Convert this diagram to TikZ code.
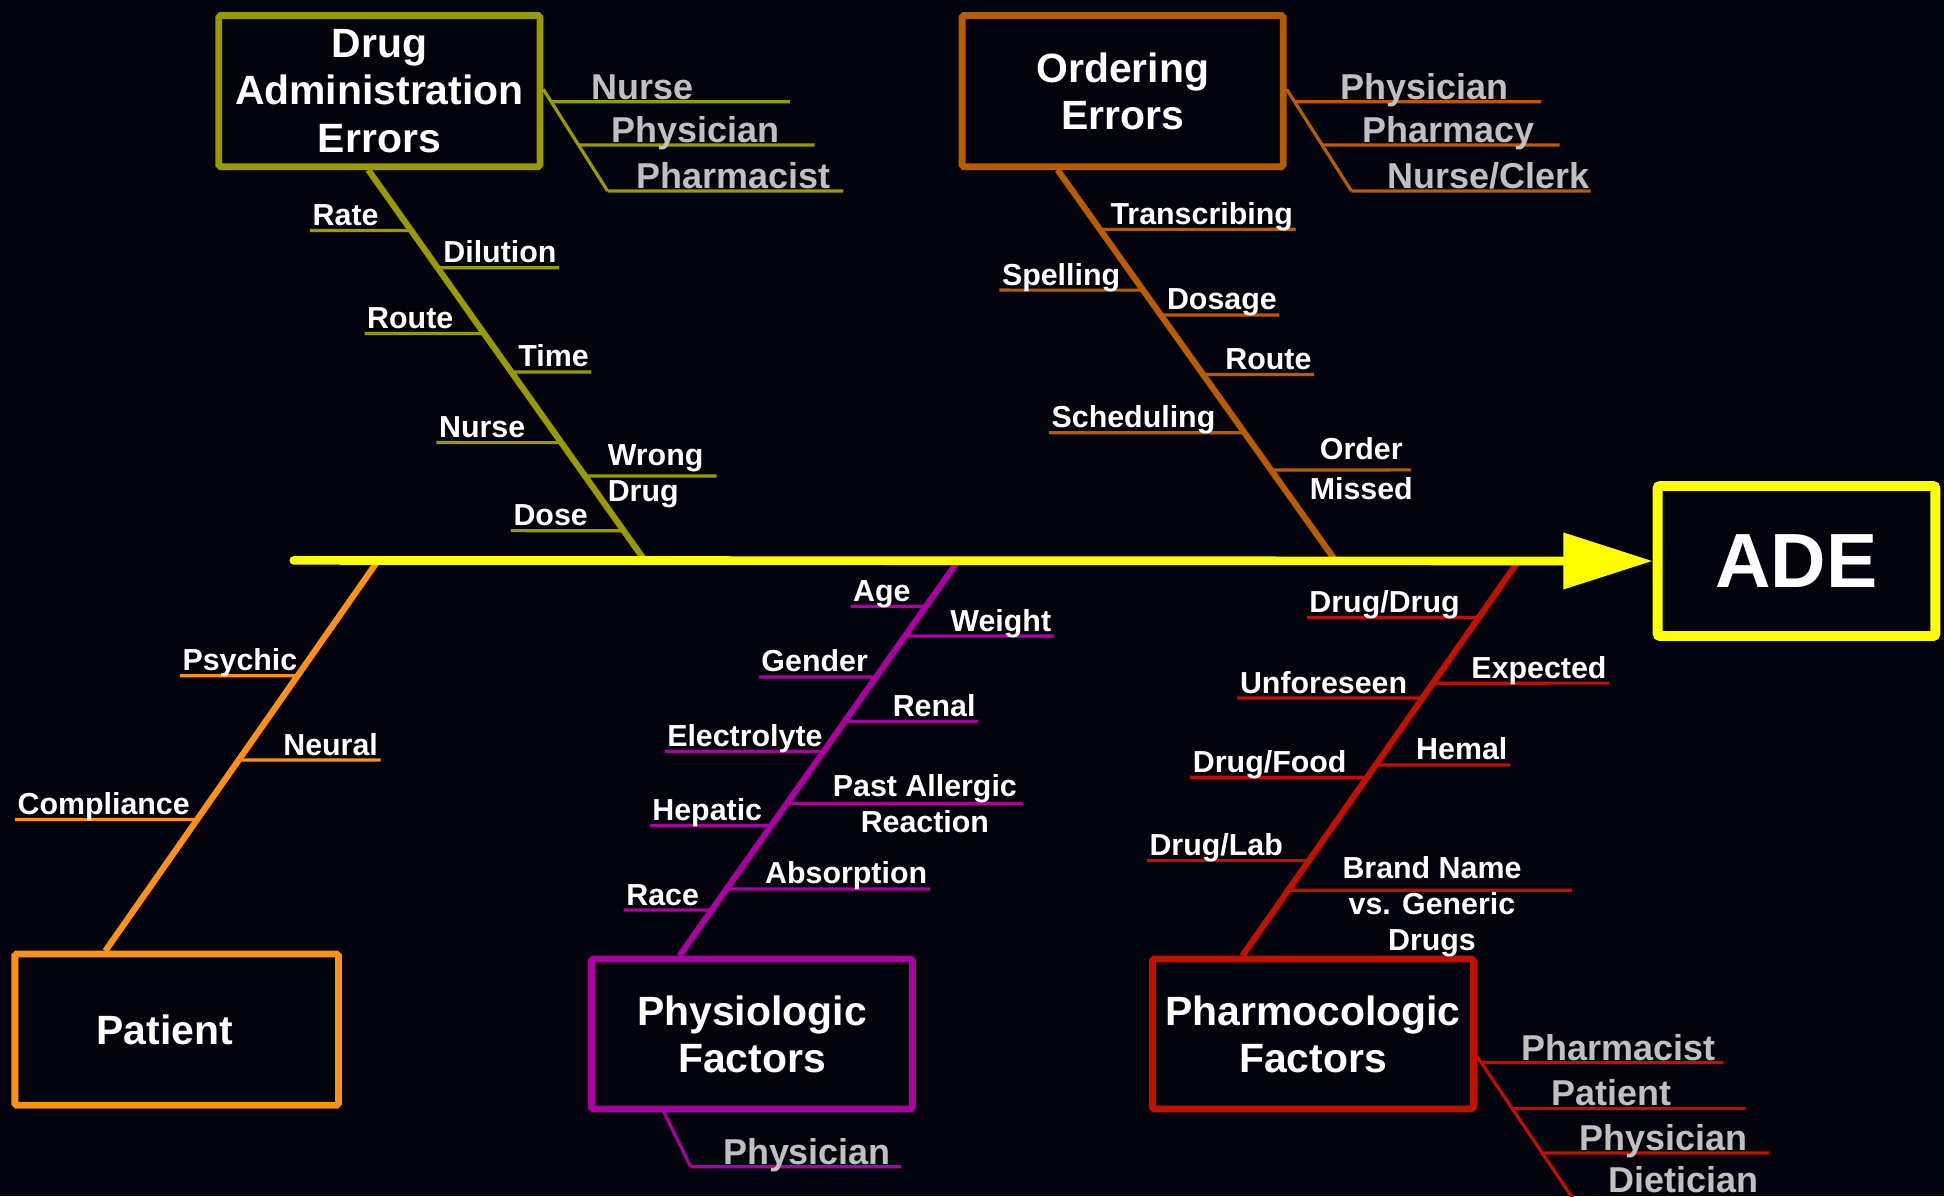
\documentclass[tikz,border=0pt]{standalone}
\usepackage{fontspec}
\setmainfont{Liberation Sans}
\usetikzlibrary{arrows.meta}
\definecolor{bgc}{RGB}{3,3,13}
\definecolor{cDae}{RGB}{153,153,0}
\definecolor{cOrd}{RGB}{184,92,0}
\definecolor{cPat}{RGB}{255,145,25}
\definecolor{cPhy}{RGB}{170,0,160}
\definecolor{cPc}{RGB}{192,16,0}
\definecolor{cGrey}{RGB}{192,192,192}
\definecolor{cSpine}{RGB}{255,255,0}
\newcommand\twig[4]{\draw[sub,#1] (#4,#3) -- (intersection of #2A--#2B and 0,#3--1,#3);}
% name, color, bone, y, x outer, text
\newcommand\leftlab[6]{\twig{#2}{#3}{#4}{#5}\node[lab,anchor=base west] (#1) at (#5+2,#4-4) {#6};}
\newcommand\rightlab[6]{\twig{#2}{#3}{#4}{#5}\node[lab,anchor=base east] (#1) at (#5-2,#4-4) {#6};}
% name, color, diag prefix, y, x right end, text x, text
\newcommand\sidelab[7]{\draw[sub,#2] (intersection of #3A--#3B and 0,#4--1,#4) -- (#5,#4);
  \node[glab,anchor=base west] (#1) at (#6,#4-2) {#7};}
\begin{document}
\begin{tikzpicture}[x=1pt,y=-1pt,
  lab/.style={text=white,font=\bfseries\fontsize{24.5}{29}\selectfont,inner sep=0pt},
  glab/.style={text=cGrey,font=\bfseries\fontsize{29}{34}\selectfont,inner sep=0pt},
  ttl/.style={draw,fill=bgc,line width=5.5pt,rounded corners=1.5pt,text=white,
    font=\bfseries\fontsize{33}{38}\selectfont,align=center,inner sep=0pt,
    minimum width=259pt,minimum height=122pt},
  bone/.style={line width=5pt},
  sub/.style={line width=2.6pt}]
\fill[bgc] (0,0) rectangle (1568,965);
\useasboundingbox (0,0) rectangle (1568,965);

% effect box
\node[draw=cSpine,fill=bgc,line width=8pt,rounded corners=2pt,minimum width=224pt,minimum height=121pt,
  text=white,font=\bfseries\fontsize{62}{70}\selectfont,inner sep=0pt] (ade) at (1449,452.5) {ADE};

% coordinates of bones
\coordinate (daeA) at (297,137); \coordinate (daeB) at (520,452);
\coordinate (ordA) at (853,137); \coordinate (ordB) at (1077,452);
\coordinate (patA) at (305,452); \coordinate (patB) at (85,767);
\coordinate (phyA) at (773,452); \coordinate (phyB) at (548,771);
\coordinate (pcA) at (1225,452); \coordinate (pcB) at (1002,771);
\coordinate (tail) at (237,452);

% bones
\draw[bone,cDae] (daeA) -- (daeB);
\draw[bone,cOrd] (ordA) -- (ordB);
\draw[bone,cPat] (patA) -- (patB);
\draw[bone,cPhy] (phyA) -- (phyB);
\draw[bone,cPc] (pcA) -- (pcB);

% spine
\draw[cSpine,line width=7pt,line cap=round,-{Triangle[length=72pt,width=44pt]}] (tail) -- (ade.west);

% category boxes
\node[ttl,draw=cDae] (dae) at (306,73.5) {Drug\\Administration\\Errors};
\node[ttl,draw=cOrd] (ord) at (905.5,73.5) {Ordering\\Errors};
\node[ttl,draw=cPat,minimum width=261pt] (pat) at (142.5,830.5) {Patient\hspace*{19pt}};
\node[ttl,draw=cPhy,minimum height=121pt] (phy) at (606.5,834) {Physiologic\\Factors};
\node[ttl,draw=cPc,minimum height=121pt] (pc) at (1059,834) {Pharmocologic\\Factors};

% Drug administration errors
\leftlab{rate}{cDae}{dae}{186}{250}{Rate}
\rightlab{dilution}{cDae}{dae}{216}{451}{Dilution}
\leftlab{route1}{cDae}{dae}{269}{294}{Route}
\rightlab{time}{cDae}{dae}{300}{477}{Time}
\leftlab{nurse1}{cDae}{dae}{357}{352}{Nurse}
\twig{cDae}{dae}{384}{578}
\node[lab,anchor=west,align=left] (wrong) at (490,384) {Wrong\\Drug};
\leftlab{dose}{cDae}{dae}{428}{412}{Dose}

% Ordering errors
\rightlab{transcribing}{cOrd}{ord}{185}{1045}{Transcribing}
\leftlab{spelling}{cOrd}{ord}{234}{806}{Spelling}
\rightlab{dosage}{cOrd}{ord}{254}{1032}{Dosage}
\rightlab{route2}{cOrd}{ord}{302}{1060}{Route}
\leftlab{scheduling}{cOrd}{ord}{349}{846}{Scheduling}
\twig{cOrd}{ord}{379}{1138}
\node[lab,align=center] (order) at (1098,378) {Order\\[4pt]Missed};

% Patient
\leftlab{psychic}{cPat}{pat}{545}{145}{Psychic}
\rightlab{neural}{cPat}{pat}{613}{307}{Neural}
\leftlab{compliance}{cPat}{pat}{661}{12}{Compliance}

% Physiologic
\leftlab{age}{cPhy}{phy}{489}{686}{Age}
\rightlab{weight}{cPhy}{phy}{513}{850}{Weight}
\leftlab{gender}{cPhy}{phy}{546}{612}{Gender}
\rightlab{renal}{cPhy}{phy}{582}{789}{Renal}
\leftlab{electrolyte}{cPhy}{phy}{606}{536}{Electrolyte}
\twig{cPhy}{phy}{648}{825}
\node[lab,align=center] (allergic) at (746,648) {Past Allergic\\Reaction};
\leftlab{hepatic}{cPhy}{phy}{666}{524}{Hepatic}
\rightlab{absorption}{cPhy}{phy}{717}{750}{Absorption}
\leftlab{race}{cPhy}{phy}{734}{503}{Race}

% Pharmocologic
\leftlab{dd}{cPc}{pc}{498}{1054}{Drug/Drug}
\rightlab{expected}{cPc}{pc}{551}{1298}{Expected}
\leftlab{unforeseen}{cPc}{pc}{563}{998}{Unforeseen}
\rightlab{hemal}{cPc}{pc}{617}{1218}{Hemal}
\leftlab{df}{cPc}{pc}{627}{960}{Drug/Food}
\leftlab{dl}{cPc}{pc}{694}{925}{Drug/Lab}
\twig{cPc}{pc}{718}{1268}
\node[lab,align=center] (brand) at (1155,731) {Brand Name\\vs. Generic\\Drugs};

% side lines (responsible persons)
\coordinate (sdaeA) at (dae.east |- 0,72); \coordinate (sdaeB) at (490,154);
\draw[sub,cDae] (sdaeA) -- (sdaeB);
\sidelab{s1}{cDae}{sdae}{82}{637}{477}{Nurse}
\sidelab{s2}{cDae}{sdae}{117}{657}{493}{Physician}
\sidelab{s3}{cDae}{sdae}{154}{680}{513}{Pharmacist}

\coordinate (sordA) at (ord.east |- 0,72); \coordinate (sordB) at (1090,154);
\draw[sub,cOrd] (sordA) -- (sordB);
\sidelab{s4}{cOrd}{sord}{82}{1243}{1081}{Physician}
\sidelab{s5}{cOrd}{sord}{117}{1258}{1099}{Pharmacy}
\sidelab{s6}{cOrd}{sord}{154}{1283}{1119}{Nurse/Clerk}

\coordinate (sphyA) at (535,896); \coordinate (sphyB) at (557,941);
\draw[sub,cPhy] (sphyA) -- (sphyB);
\sidelab{s7}{cPhy}{sphy}{941}{727}{583}{Physician}

\coordinate (spcA) at (pc.east |- 0,852); \coordinate (spcB) at (1275,976);
\draw[sub,cPc] (spcA) -- (spcB);
\sidelab{s8}{cPc}{spc}{857}{1390}{1227}{Pharmacist}
\sidelab{s9}{cPc}{spc}{894}{1408}{1251}{Patient}
\sidelab{s10}{cPc}{spc}{930}{1427}{1274}{Physician}
\node[glab,anchor=base west] (s11) at (1297,962) {Dietician};
\end{tikzpicture}
\end{document}
